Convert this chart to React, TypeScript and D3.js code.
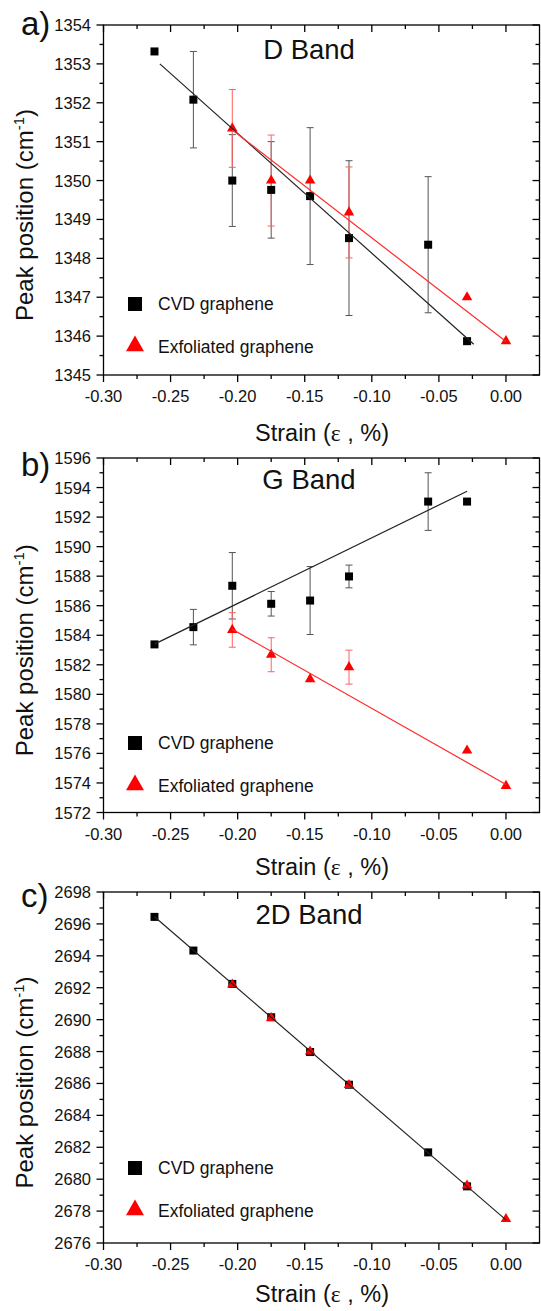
import React, { useEffect, useRef } from 'react';
import * as d3 from 'd3';

// strain values (%) of the measured points
const strainCvd = [-0.262, -0.233, -0.204, -0.175, -0.146, -0.117, -0.058, -0.029];
const strainExf = [-0.204, -0.175, -0.146, -0.117, -0.029, 0];

// D band
const dCvd = [1353.32, 1352.08, 1350.0, 1349.76, 1349.6, 1348.52, 1348.35, 1345.87];
const dCvdErr = [0, 1.24, 1.18, 1.24, 1.76, 1.99, 1.75, 0];
const dExf = [1351.34, 1350.0, 1350.0, 1349.18, 1347.0, 1345.87];
const dExfErr = [1.0, 1.17, 0, 1.17, 0, 0];
const dCvdFitX = [-0.258, -0.024];
const dCvdFitY = [1353.0, 1345.79];
const dExfFitX = [-0.204, 0];
const dExfFitY = [1351.3, 1345.86];

// G band
const gCvd = [1583.38, 1584.55, 1587.35, 1586.13, 1586.35, 1587.98, 1593.05, 1593.05];
const gCvdErr = [0, 1.2, 2.25, 0.83, 2.3, 0.77, 1.95, 0];
const gExf = [1584.36, 1582.68, 1581.03, 1581.84, 1576.2, 1573.8];
const gExfErr = [1.17, 1.15, 0, 1.15, 0, 0];
const gCvdFitX = [-0.262, -0.029];
const gCvdFitY = [1583.4, 1593.75];
const gExfFitX = [-0.204, 0];
const gExfFitY = [1584.4, 1573.9];

// 2D band
const c2dCvd = [2696.44, 2694.33, 2692.24, 2690.15, 2687.97, 2685.92, 2681.68, 2679.55];
const c2dExf = [2692.2, 2690.1, 2688.0, 2685.9, 2679.6, 2677.5];
const c2dFitX = [-0.262, 0];
const c2dFitY = [2696.45, 2677.45];

// axis ticks
const xTicks = [-0.3, -0.25, -0.2, -0.15, -0.1, -0.05, 0];
const dTicks = [1345, 1346, 1347, 1348, 1349, 1350, 1351, 1352, 1353, 1354];
const gTicks = [1572, 1574, 1576, 1578, 1580, 1582, 1584, 1586, 1588, 1590, 1592, 1594, 1596];
const c2dTicks = [2676, 2678, 2680, 2682, 2684, 2686, 2688, 2690, 2692, 2694, 2696, 2698];

const legendLabels = ['CVD graphene', 'Exfoliated graphene'];

const FONT = '"Liberation Sans", Arial, sans-serif';
const W = 541;
const H = 1311;

const panels = [
  {
    label: 'a)', title: 'D Band', top: 25, bottom: 375, ticks: dTicks,
    cvd: dCvd, cvdErr: dCvdErr, exf: dExf, exfErr: dExfErr,
    fits: [{ x: dCvdFitX, y: dCvdFitY, color: '#222' }, { x: dExfFitX, y: dExfFitY, color: '#ff2a2a' }],
    labelY: 35, titleY: 59, legendY: 304, xTitleY: 441,
  },
  {
    label: 'b)', title: 'G Band', top: 458, bottom: 812.5, ticks: gTicks,
    cvd: gCvd, cvdErr: gCvdErr, exf: gExf, exfErr: gExfErr,
    fits: [{ x: gCvdFitX, y: gCvdFitY, color: '#222' }, { x: gExfFitX, y: gExfFitY, color: '#ff2a2a' }],
    labelY: 476, titleY: 489, legendY: 743, xTitleY: 875,
  },
  {
    label: 'c)', title: '2D Band', top: 892, bottom: 1243, ticks: c2dTicks,
    cvd: c2dCvd, cvdErr: null, exf: c2dExf, exfErr: null,
    fits: [{ x: c2dFitX, y: c2dFitY, color: '#222' }],
    labelY: 907, titleY: 924, legendY: 1168, xTitleY: 1302,
  },
];

const App = () => {
  const svgRef = useRef<SVGSVGElement>(null);

  useEffect(() => {
    const svg = d3.select(svgRef.current);
    svg.selectAll('*').remove();

    const left = 103.5;
    const right = 539.5;
    const x = d3.scaleLinear().domain([-0.3, 0.025]).range([left, right]);
    const xMinor = d3.range(-30, 2.5, 2.5).map(v => v / 100);

    panels.forEach(p => {
      const step = p.ticks[1] - p.ticks[0];
      const y = d3.scaleLinear()
        .domain([p.ticks[0], p.ticks[p.ticks.length - 1]])
        .range([p.bottom, p.top]);
      const yMinor = d3.range(p.ticks[0], p.ticks[p.ticks.length - 1] + 0.001, step / 2);
      const g = svg.append('g');

      // frame
      g.append('rect')
        .attr('x', left).attr('y', p.top)
        .attr('width', right - left).attr('height', p.bottom - p.top)
        .attr('fill', 'none').attr('stroke', '#000').attr('stroke-width', 1.3);

      // x ticks: out at bottom, in at top
      xMinor.forEach((v, i) => {
        const len = i % 2 === 0 ? 7 : 4;
        const xp = x(v);
        g.append('line').attr('x1', xp).attr('x2', xp)
          .attr('y1', p.bottom).attr('y2', p.bottom + len)
          .attr('stroke', '#000').attr('stroke-width', 1.3);
        g.append('line').attr('x1', xp).attr('x2', xp)
          .attr('y1', p.top).attr('y2', p.top + len)
          .attr('stroke', '#000').attr('stroke-width', 1.3);
      });
      xTicks.forEach(v => {
        g.append('text')
          .attr('x', x(v)).attr('y', p.bottom + 27)
          .attr('text-anchor', 'middle')
          .style('font-family', FONT).style('font-size', '16.5px').style('fill', '#111')
          .text(v.toFixed(2));
      });

      // y ticks: out at left, in at right
      yMinor.forEach((v, i) => {
        const len = i % 2 === 0 ? 7 : 4;
        const yp = y(v);
        g.append('line').attr('x1', left - len).attr('x2', left)
          .attr('y1', yp).attr('y2', yp)
          .attr('stroke', '#000').attr('stroke-width', 1.3);
        g.append('line').attr('x1', right - len).attr('x2', right)
          .attr('y1', yp).attr('y2', yp)
          .attr('stroke', '#000').attr('stroke-width', 1.3);
      });
      p.ticks.forEach(v => {
        g.append('text')
          .attr('x', 91).attr('y', y(v) + 6)
          .attr('text-anchor', 'end')
          .style('font-family', FONT).style('font-size', '16.5px').style('fill', '#111')
          .text(v);
      });

      // error bars
      const errBars = (xs: number[], ys: number[], errs: number[] | null, color: string) => {
        if (!errs) return;
        xs.forEach((xv, i) => {
          const e = errs[i];
          if (!e) return;
          const xp = x(xv);
          const y1 = y(ys[i] - e);
          const y2 = y(ys[i] + e);
          g.append('line').attr('x1', xp).attr('x2', xp).attr('y1', y1).attr('y2', y2)
            .attr('stroke', color).attr('stroke-width', 1);
          [y1, y2].forEach(yy => {
            g.append('line').attr('x1', xp - 3.5).attr('x2', xp + 3.5).attr('y1', yy).attr('y2', yy)
              .attr('stroke', color).attr('stroke-width', 1);
          });
        });
      };
      errBars(strainCvd, p.cvd, p.cvdErr, '#555');
      errBars(strainExf, p.exf, p.exfErr, '#ff6060');

      // markers
      g.selectAll('.sq')
        .data(strainCvd.map((s, i) => [s, p.cvd[i]]))
        .enter().append('rect')
        .attr('x', d => x(d[0]) - 4).attr('y', d => y(d[1]) - 4)
        .attr('width', 8).attr('height', 8)
        .attr('fill', '#000');
      const tri = d3.symbol().type(d3.symbolTriangle).size(48);
      g.selectAll('.tri')
        .data(strainExf.map((s, i) => [s, p.exf[i]]))
        .enter().append('path')
        .attr('d', tri)
        .attr('transform', d => `translate(${x(d[0])},${y(d[1])})`)
        .attr('fill', '#ff0000');

      // fit lines
      p.fits.forEach(f => {
        const pts = f.x.map((xv, i) => [xv, f.y[i]] as [number, number]);
        g.append('path')
          .attr('d', d3.line<[number, number]>().x(d => x(d[0])).y(d => y(d[1]))(pts))
          .attr('fill', 'none').attr('stroke', f.color).attr('stroke-width', 1.2);
      });

      // legend
      g.append('rect')
        .attr('x', 128).attr('y', p.legendY - 7).attr('width', 14).attr('height', 14)
        .attr('fill', '#000');
      g.append('path')
        .attr('d', d3.symbol().type(d3.symbolTriangle).size(140)())
        .attr('transform', `translate(135,${p.legendY + 42})`)
        .attr('fill', '#ff0000');
      legendLabels.forEach((t, i) => {
        g.append('text')
          .attr('x', 158).attr('y', p.legendY + 6 + i * 43)
          .style('font-family', FONT).style('font-size', '17.5px').style('fill', '#111')
          .text(t);
      });

      // title and panel label
      g.append('text')
        .attr('x', 309).attr('y', p.titleY)
        .attr('text-anchor', 'middle')
        .style('font-family', FONT).style('font-size', '27.5px').style('fill', '#111')
        .text(p.title);
      g.append('text')
        .attr('x', 21).attr('y', p.labelY)
        .style('font-family', FONT).style('font-size', '33px').style('fill', '#111')
        .text(p.label);

      // axis titles
      const xt = g.append('text')
        .attr('x', 322).attr('y', p.xTitleY)
        .attr('text-anchor', 'middle')
        .style('font-family', FONT).style('font-size', '23.5px').style('fill', '#111');
      xt.append('tspan').text('Strain (');
      xt.append('tspan').style('font-family', '"Liberation Serif", serif').text('ε');
      xt.append('tspan').text(' , %)');

      const yc = (p.top + p.bottom) / 2 + 15;
      const yt = g.append('text')
        .attr('transform', `translate(33,${yc}) rotate(-90)`)
        .attr('text-anchor', 'middle')
        .style('font-family', FONT).style('font-size', '24px').style('fill', '#111');
      yt.append('tspan').text('Peak position (cm');
      yt.append('tspan').attr('dy', -9).style('font-size', '15px').text('-1');
      yt.append('tspan').attr('dy', 9).text(')');
    });
  }, []);

  return (
    <svg ref={svgRef} width={W} height={H}
      style={{ position: 'absolute', left: 0, top: 0, background: '#fff' }} />
  );
};

export default App;
